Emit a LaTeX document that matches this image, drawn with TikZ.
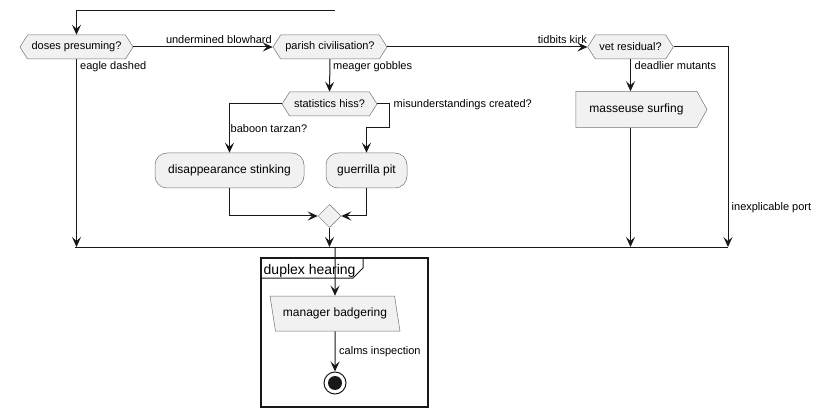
\documentclass[tikz,border=0pt]{standalone}
\usepackage{fontspec}
\setmainfont{Liberation Sans}
\usetikzlibrary{arrows.meta,shapes.symbols,shapes.geometric}

\definecolor{boxfill}{HTML}{F1F1F1}
\definecolor{boxline}{HTML}{181818}

\tikzset{
  flow/.style={draw=boxline, line width=1pt, -{Stealth[length=10pt,width=9pt,inset=4pt]}},
  plain/.style={draw=boxline, line width=1pt},
  choice/.style={signal, signal to=west and east, signal pointer angle=115, draw=black!55,
    fill=boxfill, line width=0.5pt, minimum height=24pt, inner xsep=4pt, inner ysep=2pt,
    font=\fontsize{11}{13}\selectfont},
  action/.style={rectangle, rounded corners=12pt, draw=black!55, fill=boxfill,
    line width=0.5pt, minimum height=35pt, font=\fontsize{12}{14}\selectfont},
  lbl/.style={inner sep=0pt, font=\fontsize{11}{13}\selectfont},
}

\begin{document}
\begin{tikzpicture}[x=1pt, y=-1pt]

\useasboundingbox (0,0) rectangle (820,417);

% decisions
\node[choice, minimum width=113pt] (doses) at (76.5,47) {doses presuming?};
\node[choice, minimum width=114pt] (parish) at (330,47) {parish civilisation?};
\node[choice, minimum width=85pt] (vet) at (630.5,47) {vet residual?};
\node[choice, minimum width=95pt] (stats) at (329.5,104) {statistics hiss?};

% actions
\node[action, minimum width=149pt] (disapp) at (229.5,170.5) {disappearance stinking};
\node[action, minimum width=81pt] (guerr) at (366.5,170.5) {guerrilla pit};
\node[signal, signal to=east, signal pointer angle=122, draw=black!55, fill=boxfill,
  line width=0.5pt, minimum width=131pt, minimum height=36pt,
  font=\fontsize{12}{14}\selectfont] (masseuse) at (636.5,109.5) {masseuse surfing};

\node[diamond, draw=black!55, fill=boxfill, line width=0.5pt, minimum size=23pt,
  inner sep=0pt] (merge) at (329.5,216) {};

% merge bar
\coordinate (barL) at (75,247);
\coordinate (barR) at (728,247);
\coordinate (barout) at (335,247);
\draw[plain] (barL) -- (barR);

% group
\draw[draw=boxline, line width=1.5pt] (261,258) rectangle (428,407);
\draw[plain] (261,278) -- (353,278) -- (363,268) -- (363,258);
\node[anchor=base west, inner sep=0pt, font=\fontsize{14}{16}\selectfont] (grouptitle) at (263.5,274.5) {duplex hearing};

\node[trapezium, trapezium left angle=107, trapezium right angle=73, draw=black!55,
  fill=boxfill, line width=0.5pt, minimum height=35pt, minimum width=130pt,
  trapezium stretches body, font=\fontsize{12}{14}\selectfont] (manager) at (335,313.5) {manager badgering};

\node[circle, draw=boxline, line width=1pt, minimum size=22pt, inner sep=0pt,
  path picture={\fill[boxline] (path picture bounding box.center) circle (7pt);}] (stop) at (335,383) {};

% connectors
\coordinate (entry) at (335,11);
\coordinate (sbend) at (389,128);
\draw[flow] (entry) -| (doses.north);
\draw[flow] (doses.east) -- (parish.west);
\draw[flow] (parish.east) -- (vet.west);
\draw[flow] (doses.south) -- (doses.south |- barL);
\draw[flow] (parish.south) -- (stats.north);
\draw[flow] (stats.west) -| (disapp.north);
\draw[flow] (stats.east) -| (sbend) -| (guerr.north);
\draw[flow] (disapp.south) |- (merge.west);
\draw[flow] (guerr.south) |- (merge.east);
\draw[flow] (merge.south) -- (merge.south |- barL);
\draw[flow] (vet.east) -| (barR);
\draw[flow] (vet.south) -- (vet.south |- masseuse.north);
\draw[flow] (vet.south |- masseuse.south) -- (vet.south |- barL);
\draw[flow] (barout) -- (manager.north);
\draw[flow] (manager.south) -- (stop.north);

% labels
\node[lbl, anchor=base east] (l1) at (272,44) {undermined blowhard};
\node[lbl, anchor=base east] (l2) at (587,44) {tidbits kirk};
\node[lbl, anchor=base west] (l3) at (80,69.5) {eagle dashed};
\node[lbl, anchor=base west] (l4) at (333,69.5) {meager gobbles};
\node[lbl, anchor=base west] (l5) at (634.5,69.5) {deadlier mutants};
\node[lbl, anchor=base west] (l6) at (230.5,132.5) {baboon tarzan?};
\node[lbl, anchor=base west] (l7) at (393.5,107.5) {misunderstandings created?};
\node[lbl, anchor=base west] (l8) at (731.5,211) {inexplicable port};
\node[lbl, anchor=base west] (l9) at (339,354) {calms inspection};

\end{tikzpicture}
\end{document}
